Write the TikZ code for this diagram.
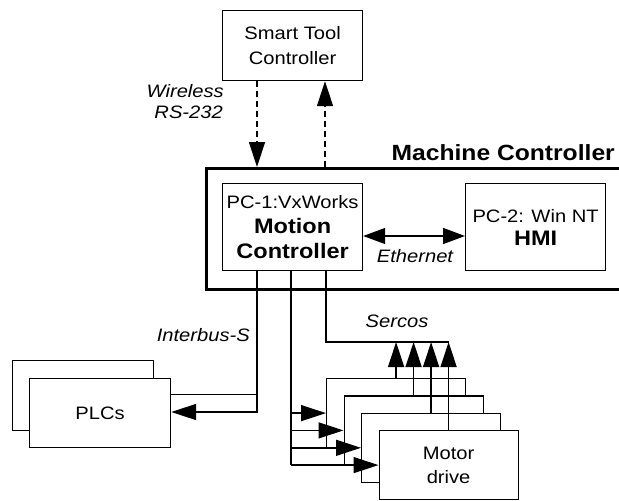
\documentclass[tikz,border=0pt]{standalone}
\usepackage{fontspec}
\setmainfont{Liberation Sans}[FakeStretch=1.12]
\usetikzlibrary{arrows.meta,calc}
\newcommand\bigb[1]{{\fontsize{21}{27}\selectfont\bfseries #1}}
\begin{document}
\begin{tikzpicture}[x=1pt,y=-1pt,
  box/.style={draw, line width=1.2pt, fill=white, align=center, inner sep=0pt,
              anchor=north west, font=\fontsize{18}{25}\selectfont},
  tip/.style={},
  arr/.style={line width=1.4pt, -{Triangle[length=25pt,width=16pt]}},
  wl/.style={arr, dash pattern=on 6pt off 4pt},
  lbl/.style={font=\fontsize{18}{22}\selectfont\itshape, inner sep=0pt, anchor=base}]
\useasboundingbox (0,0) rectangle (619,501);
\clip (0,0) rectangle (619,501);
% boxes
\node[box, minimum width=140pt, minimum height=70pt] (stc) at (222,10) {Smart Tool\\Controller};
\node[draw, line width=2.8pt, minimum width=420pt, minimum height=121pt, anchor=north west, inner sep=0pt] (mach) at (205,167) {};
\node[font=\fontsize{22}{25}\selectfont\bfseries, anchor=base east, inner sep=0pt] (machl) at (615,160) {Machine Controller};
\node[box, minimum width=140pt, minimum height=87pt] (mot) at (222,183) {PC-1:VxWorks\\\bigb{Motion}\\\bigb{Controller}};
\node[box, minimum width=140pt, minimum height=87pt] (hmi) at (465,183) {PC-2: Win NT\\[-2pt]\bigb{HMI}};
\node[box, minimum width=141pt, minimum height=70pt] (plcb) at (12,360) {};
\node[box, minimum width=141pt, minimum height=69pt] (plcf) at (29,378) {PLCs};
\node[box, minimum width=139pt, minimum height=69pt] (md1) at (326,378) {};
\node[box, minimum width=139pt, minimum height=69pt] (md2) at (343.5,395.3) {};
\node[box, minimum width=139pt, minimum height=69pt] (md3) at (361,412.7) {};
\node[box, minimum width=139pt, minimum height=69pt] (md4) at (378.5,430) {Motor\\[-1pt]drive};
% helper coordinates
\coordinate (x1) at (257,0);
\coordinate (x2) at (325,0);
\coordinate (xa) at (257,0);
\coordinate (xb) at (291,0);
\coordinate (xc) at (326,0);
\coordinate (busy) at (0,342);
\coordinate (ethy) at (0,236);
\coordinate (plcin) at (0,412);
\coordinate (plcout) at (0,394);
% wireless
\draw[wl] (stc.south -| x1) -- (mach.north -| x1);
\draw[wl] (mach.north -| x2) -- (stc.south -| x2);
\node[lbl, anchor=base east] (wl1) at (224,97) {Wireless};
\node[lbl, anchor=base east] (wl2) at (223,118) {RS-232};
% ethernet
\draw[line width=1.4pt, {Triangle[length=22pt,width=16pt]}-{Triangle[length=22pt,width=16pt]}] (mot.east |- ethy) -- (hmi.west |- ethy);
\node[lbl] (eth) at (415,262) {Ethernet};
% interbus
\draw[arr] (mot.south -| xa) |- (plcf.east |- plcin);
\draw[line width=1pt] (plcf.east |- plcout) -- (xa |- plcout);
\node[lbl, anchor=base east] (ibs) at (250,341) {Interbus-S};
% drive inputs
\draw[line width=1.4pt] (mot.south -| xb) -- (xb |- md4.west);
\draw[arr] (xb |- md1.west) -- (md1.west);
\draw[arr] (xb |- md2.west) -- (md2.west);
\draw[arr] (xb |- md3.west) -- (md3.west);
\draw[arr] (xb |- md4.west) -- (md4.west);
% sercos
\draw[line width=1.4pt] (mot.south -| xc) |- (md4.north |- busy);
\draw[arr] (md1.north) -- (md1.north |- busy);
\draw[arr] (md2.north) -- (md2.north |- busy);
\draw[arr] (md3.north) -- (md3.north |- busy);
\draw[arr] (md4.north) -- (md4.north |- busy);
\node[lbl] (ser) at (397,327) {Sercos};
\end{tikzpicture}
\end{document}
